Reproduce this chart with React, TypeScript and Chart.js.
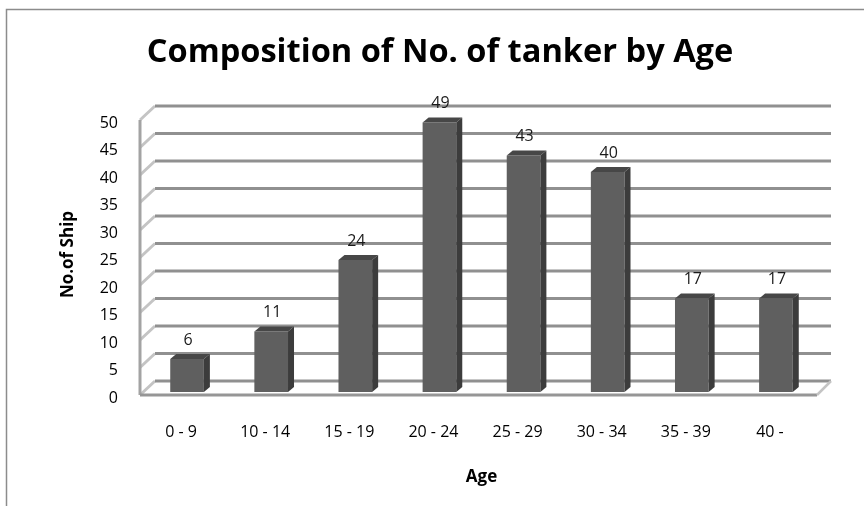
import React, { useEffect, useRef } from 'react';
import { Chart, registerables } from 'chart.js';

Chart.register(...registerables);

const categories = ['0 - 9', '10 - 14', '15 - 19', '20 - 24', '25 - 29', '30 - 34', '35 - 39', '40 -'];
const shipCounts = [6, 11, 24, 49, 43, 40, 17, 17];
const yMin = 0;
const yMax = 50;
const yStep = 5;
const titleText = 'Composition of No. of tanker by Age';
const yAxisTitle = 'No.of Ship';
const xAxisTitle = 'Age';

const FONT = '"Open Sans", "DejaVu Sans", sans-serif';

const threeD = {
  id: 'threeD',
  beforeDraw(chart: any) {
    const ctx = chart.ctx;
    ctx.save();
    ctx.fillStyle = '#ffffff';
    ctx.fillRect(0, 0, chart.width, chart.height);
    // outer frame (partially visible)
    ctx.strokeStyle = '#8c8c8c';
    ctx.lineWidth = 1.5;
    ctx.beginPath();
    ctx.moveTo(6.5, chart.height);
    ctx.lineTo(6.5, 9.5);
    ctx.lineTo(chart.width, 9.5);
    ctx.stroke();
    // title
    ctx.fillStyle = '#000000';
    ctx.font = `bold 32.6px ${FONT}`;
    ctx.textAlign = 'center';
    ctx.textBaseline = 'middle';
    ctx.fillText(titleText, 440, 53);
    ctx.restore();
  },
  beforeDatasetsDraw(chart: any) {
    const ctx = chart.ctx;
    const { left, right } = chart.chartArea;
    const y = chart.scales.y;
    const fx0 = left - 5, fx1 = right - 1, fdy = 3;
    const bx0 = left + 10, bx1 = right + 13, bdy = -11;
    const y0 = y.getPixelForValue(yMin);
    const yTop = y.getPixelForValue(yMax);
    ctx.save();
    ctx.lineCap = 'butt';
    // back wall gridlines + left wall diagonals
    y.ticks.forEach((t: any) => {
      const yy = y.getPixelForValue(t.value);
      ctx.strokeStyle = '#c4c4c4';
      ctx.lineWidth = 3;
      ctx.beginPath();
      ctx.moveTo(fx0, yy + fdy);
      ctx.lineTo(bx0, yy + bdy);
      ctx.stroke();
      ctx.strokeStyle = '#909090';
      ctx.lineWidth = 3;
      ctx.beginPath();
      ctx.moveTo(bx0, yy + bdy);
      ctx.lineTo(bx1, yy + bdy);
      ctx.stroke();
    });
    // left front vertical edge
    ctx.strokeStyle = '#a3a3a3';
    ctx.lineWidth = 3;
    ctx.beginPath();
    ctx.moveTo(fx0, yTop + fdy);
    ctx.lineTo(fx0, y0 + fdy);
    ctx.stroke();
    // floor front edge
    ctx.strokeStyle = '#969696';
    ctx.beginPath();
    ctx.moveTo(fx0, y0 + fdy);
    ctx.lineTo(fx1, y0 + fdy);
    ctx.stroke();
    // floor right diagonal
    ctx.strokeStyle = '#c4c4c4';
    ctx.lineWidth = 2.5;
    ctx.beginPath();
    ctx.moveTo(fx1, y0 + fdy);
    ctx.lineTo(bx1, y0 + bdy);
    ctx.stroke();
    ctx.restore();
  },
  afterDatasetsDraw(chart: any) {
    const ctx = chart.ctx;
    const meta = chart.getDatasetMeta(0);
    const values = chart.data.datasets[0].data;
    ctx.save();
    meta.data.forEach((bar: any, i: number) => {
      const p = bar.getProps(['x', 'y', 'base', 'width'], true);
      const l = p.x - p.width / 2;
      const r = p.x + p.width / 2;
      const top = p.y;
      const base = p.base;
      const dx = 6, dy = -5;
      ctx.fillStyle = '#474747';
      ctx.beginPath();
      ctx.moveTo(l, top);
      ctx.lineTo(l + dx, top + dy);
      ctx.lineTo(r + dx, top + dy);
      ctx.lineTo(r, top);
      ctx.closePath();
      ctx.fill();
      ctx.fillStyle = '#3c3c3c';
      ctx.beginPath();
      ctx.moveTo(r, top);
      ctx.lineTo(r + dx, top + dy);
      ctx.lineTo(r + dx, base + dy);
      ctx.lineTo(r, base);
      ctx.closePath();
      ctx.fill();
      ctx.fillStyle = '#1a1a1a';
      ctx.font = `16px ${FONT}`;
      ctx.textAlign = 'center';
      ctx.textBaseline = 'middle';
      ctx.fillText(String(values[i]), p.x + 1, top - 19);
    });
    ctx.restore();
  },
};

export default function App() {
  const ref = useRef<HTMLCanvasElement>(null);
  useEffect(() => {
    const chart = new Chart(ref.current as HTMLCanvasElement, {
      type: 'bar',
      data: {
        labels: categories,
        datasets: [
          {
            data: shipCounts,
            backgroundColor: '#5f5f5f',
            borderWidth: 0,
            categoryPercentage: 1,
            barPercentage: 0.4,
          },
        ],
      },
      options: {
        responsive: false,
        animation: false,
        devicePixelRatio: 1,
        layout: { padding: { top: 117, right: 46, bottom: 0, left: 0 } },
        plugins: {
          legend: { display: false },
          title: { display: false },
          tooltip: { enabled: false },
        },
        scales: {
          x: {
            ticks: { padding: 31, labelOffset: -6, color: '#000', font: { family: FONT, size: 16 } },
            grid: { display: false, drawTicks: false },
            border: { display: false },
            title: {
              display: true,
              text: xAxisTitle,
              color: '#000',
              font: { family: FONT, size: 17, weight: 'bold' },
              padding: { top: 0, bottom: 19 },
            },
            afterFit(scale: any) {
              scale.height = 114;
            },
          },
          y: {
            min: yMin,
            max: yMax,
            ticks: { stepSize: yStep, padding: 27, labelOffset: 6, color: '#000', font: { family: FONT, size: 16 } },
            grid: { display: false, drawTicks: false },
            border: { display: false },
            title: {
              display: true,
              text: yAxisTitle,
              color: '#000',
              font: { family: FONT, size: 17, weight: 'bold' },
              padding: { top: 58, bottom: 0 },
            },
            afterFit(scale: any) {
              scale.width = 145;
            },
          },
        },
      },
      plugins: [threeD],
    } as any);
    return () => chart.destroy();
  }, []);
  return (
    <canvas
      ref={ref}
      width={864}
      height={506}
      style={{ position: 'fixed', left: 0, top: 0, width: 864, height: 506 }}
    />
  );
}
